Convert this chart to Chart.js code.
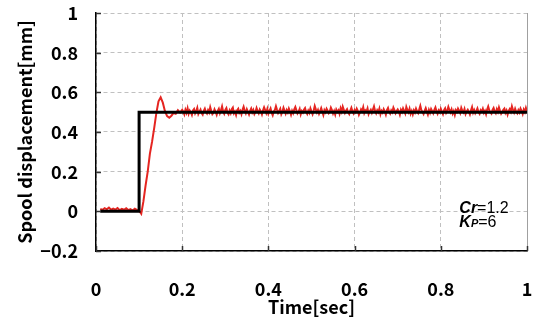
<!DOCTYPE html>
<html>
<head>
<meta charset="utf-8">
<script src="https://cdn.jsdelivr.net/npm/chart.js@4"></script>
<style>
  html, body { margin: 0; padding: 0; background: #fff; }
  #wrap { width: 534px; height: 320px; }
</style>
</head>
<body>
<div id="wrap"><canvas id="canvas"></canvas></div>
<script>
// sample times [sec] of the measured response
var sampleTime = [
  0.010, 0.015, 0.020, 0.025, 0.030, 0.035, 0.040, 0.045, 0.050, 0.055,
  0.060, 0.065, 0.070, 0.075, 0.080, 0.085, 0.090, 0.095, 0.100, 0.105,
  0.110, 0.115, 0.120, 0.125, 0.130, 0.135, 0.140, 0.145, 0.150, 0.155,
  0.160, 0.165, 0.170, 0.175, 0.180, 0.185, 0.190, 0.195, 0.200,
  0.2025, 0.2050, 0.2075, 0.2100, 0.2125, 0.2150, 0.2175, 0.2200,
  0.2225, 0.2250, 0.2275, 0.2300, 0.2325, 0.2350, 0.2375, 0.2400,
  0.2425, 0.2450, 0.2475, 0.2500, 0.2525, 0.2550, 0.2575, 0.2600,
  0.2625, 0.2650, 0.2675, 0.2700, 0.2725, 0.2750, 0.2775, 0.2800,
  0.2825, 0.2850, 0.2875, 0.2900, 0.2925, 0.2950, 0.2975, 0.3000,
  0.3025, 0.3050, 0.3075, 0.3100, 0.3125, 0.3150, 0.3175, 0.3200,
  0.3225, 0.3250, 0.3275, 0.3300, 0.3325, 0.3350, 0.3375, 0.3400,
  0.3425, 0.3450, 0.3475, 0.3500, 0.3525, 0.3550, 0.3575, 0.3600,
  0.3625, 0.3650, 0.3675, 0.3700, 0.3725, 0.3750, 0.3775, 0.3800,
  0.3825, 0.3850, 0.3875, 0.3900, 0.3925, 0.3950, 0.3975, 0.4000,
  0.4025, 0.4050, 0.4075, 0.4100, 0.4125, 0.4150, 0.4175, 0.4200,
  0.4225, 0.4250, 0.4275, 0.4300, 0.4325, 0.4350, 0.4375, 0.4400,
  0.4425, 0.4450, 0.4475, 0.4500, 0.4525, 0.4550, 0.4575, 0.4600,
  0.4625, 0.4650, 0.4675, 0.4700, 0.4725, 0.4750, 0.4775, 0.4800,
  0.4825, 0.4850, 0.4875, 0.4900, 0.4925, 0.4950, 0.4975, 0.5000,
  0.5025, 0.5050, 0.5075, 0.5100, 0.5125, 0.5150, 0.5175, 0.5200,
  0.5225, 0.5250, 0.5275, 0.5300, 0.5325, 0.5350, 0.5375, 0.5400,
  0.5425, 0.5450, 0.5475, 0.5500, 0.5525, 0.5550, 0.5575, 0.5600,
  0.5625, 0.5650, 0.5675, 0.5700, 0.5725, 0.5750, 0.5775, 0.5800,
  0.5825, 0.5850, 0.5875, 0.5900, 0.5925, 0.5950, 0.5975, 0.6000,
  0.6025, 0.6050, 0.6075, 0.6100, 0.6125, 0.6150, 0.6175, 0.6200,
  0.6225, 0.6250, 0.6275, 0.6300, 0.6325, 0.6350, 0.6375, 0.6400,
  0.6425, 0.6450, 0.6475, 0.6500, 0.6525, 0.6550, 0.6575, 0.6600,
  0.6625, 0.6650, 0.6675, 0.6700, 0.6725, 0.6750, 0.6775, 0.6800,
  0.6825, 0.6850, 0.6875, 0.6900, 0.6925, 0.6950, 0.6975, 0.7000,
  0.7025, 0.7050, 0.7075, 0.7100, 0.7125, 0.7150, 0.7175, 0.7200,
  0.7225, 0.7250, 0.7275, 0.7300, 0.7325, 0.7350, 0.7375, 0.7400,
  0.7425, 0.7450, 0.7475, 0.7500, 0.7525, 0.7550, 0.7575, 0.7600,
  0.7625, 0.7650, 0.7675, 0.7700, 0.7725, 0.7750, 0.7775, 0.7800,
  0.7825, 0.7850, 0.7875, 0.7900, 0.7925, 0.7950, 0.7975, 0.8000,
  0.8025, 0.8050, 0.8075, 0.8100, 0.8125, 0.8150, 0.8175, 0.8200,
  0.8225, 0.8250, 0.8275, 0.8300, 0.8325, 0.8350, 0.8375, 0.8400,
  0.8425, 0.8450, 0.8475, 0.8500, 0.8525, 0.8550, 0.8575, 0.8600,
  0.8625, 0.8650, 0.8675, 0.8700, 0.8725, 0.8750, 0.8775, 0.8800,
  0.8825, 0.8850, 0.8875, 0.8900, 0.8925, 0.8950, 0.8975, 0.9000,
  0.9025, 0.9050, 0.9075, 0.9100, 0.9125, 0.9150, 0.9175, 0.9200,
  0.9225, 0.9250, 0.9275, 0.9300, 0.9325, 0.9350, 0.9375, 0.9400,
  0.9425, 0.9450, 0.9475, 0.9500, 0.9525, 0.9550, 0.9575, 0.9600,
  0.9625, 0.9650, 0.9675, 0.9700, 0.9725, 0.9750, 0.9775, 0.9800,
  0.9825, 0.9850, 0.9875, 0.9900, 0.9925, 0.9950, 0.9975, 1.0000
];
// measured spool displacement [mm]
var spoolDisp = [
  0.012, 0.007, 0.016, 0.010, 0.019, 0.008, 0.014, 0.009, 0.017, 0.006,
  0.012, 0.008, 0.015, 0.006, 0.011, 0.004, 0.013, 0.007, 0.003, -0.012,
  0.050, 0.130, 0.200, 0.290, 0.350, 0.420, 0.495, 0.555, 0.575, 0.548,
  0.505, 0.480, 0.472, 0.482, 0.496, 0.492, 0.510, 0.498, 0.512,
  0.503, 0.489, 0.512, 0.497, 0.519, 0.492, 0.508, 0.500,
  0.486, 0.509, 0.516, 0.494, 0.505, 0.522, 0.491, 0.503,
  0.513, 0.496, 0.488, 0.507, 0.518, 0.501, 0.493, 0.510,
  0.499, 0.525, 0.506, 0.490, 0.497, 0.514, 0.502, 0.487,
  0.506, 0.517, 0.495, 0.509, 0.529, 0.503, 0.492, 0.511,
  0.520, 0.498, 0.489, 0.508, 0.495, 0.515, 0.523, 0.494,
  0.503, 0.486, 0.510, 0.517, 0.497, 0.506, 0.490, 0.512,
  0.527, 0.508, 0.495, 0.514, 0.501, 0.488, 0.507, 0.518,
  0.499, 0.511, 0.491, 0.502, 0.521, 0.505, 0.494, 0.513,
  0.504, 0.489, 0.509, 0.524, 0.510, 0.496, 0.516, 0.492,
  0.507, 0.519, 0.498, 0.485, 0.504, 0.511, 0.530, 0.512,
  0.496, 0.506, 0.517, 0.490, 0.502, 0.522, 0.508, 0.493,
  0.511, 0.499, 0.518, 0.504, 0.487, 0.507, 0.495, 0.514,
  0.526, 0.509, 0.494, 0.503, 0.516, 0.489, 0.506, 0.498,
  0.513, 0.521, 0.501, 0.491, 0.508, 0.497, 0.519, 0.504,
  0.490, 0.507, 0.531, 0.514, 0.499, 0.511, 0.492, 0.505,
  0.520, 0.503, 0.486, 0.510, 0.500, 0.517, 0.507, 0.495,
  0.504, 0.523, 0.511, 0.493, 0.506, 0.488, 0.513, 0.501,
  0.509, 0.492, 0.519, 0.503, 0.528, 0.512, 0.496, 0.507,
  0.515, 0.499, 0.490, 0.508, 0.522, 0.504, 0.494, 0.511,
  0.501, 0.518, 0.507, 0.487, 0.499, 0.514, 0.505, 0.525,
  0.496, 0.509, 0.503, 0.519, 0.491, 0.504, 0.512, 0.497,
  0.513, 0.529, 0.506, 0.494, 0.510, 0.500, 0.518, 0.490,
  0.507, 0.498, 0.515, 0.504, 0.488, 0.511, 0.521, 0.502,
  0.493, 0.509, 0.500, 0.523, 0.510, 0.495, 0.506, 0.514,
  0.504, 0.487, 0.512, 0.501, 0.519, 0.507, 0.494, 0.526,
  0.510, 0.499, 0.517, 0.492, 0.506, 0.489, 0.509, 0.498,
  0.518, 0.504, 0.495, 0.513, 0.532, 0.510, 0.501, 0.491,
  0.507, 0.520, 0.503, 0.488, 0.511, 0.497, 0.516, 0.505,
  0.494, 0.512, 0.524, 0.504, 0.492, 0.509, 0.500, 0.517,
  0.503, 0.490, 0.510, 0.519, 0.497, 0.507, 0.527, 0.511,
  0.499, 0.514, 0.493, 0.506, 0.486, 0.510, 0.501, 0.518,
  0.508, 0.496, 0.522, 0.507, 0.499, 0.516, 0.491, 0.504,
  0.512, 0.502, 0.489, 0.509, 0.525, 0.498, 0.511, 0.495,
  0.506, 0.519, 0.501, 0.492, 0.510, 0.503, 0.517, 0.497,
  0.507, 0.490, 0.513, 0.528, 0.509, 0.500, 0.493, 0.511,
  0.521, 0.504, 0.495, 0.515, 0.502, 0.524, 0.507, 0.492,
  0.501, 0.512, 0.518, 0.497, 0.509, 0.488, 0.506, 0.516,
  0.503, 0.529, 0.511, 0.498, 0.517, 0.502, 0.494, 0.510,
  0.499, 0.518, 0.507, 0.491, 0.513, 0.501, 0.522, 0.505
];
// reference (step command)
var refTime = [0.01, 0.1, 0.1, 1.0];
var refDisp = [0, 0, 0.5, 0.5];

var xTicks = [0, 0.2, 0.4, 0.6, 0.8, 1];
var xTickLabels = ['0', '0.2', '0.4', '0.6', '0.8', '1'];
var yTicks = [-0.2, 0, 0.2, 0.4, 0.6, 0.8, 1];
var yTickLabels = ['\u22120.2', '0', '0.2', '0.4', '0.6', '0.8', '1'];

function pairs(xs, ys) {
	return xs.map(function(x, i) { return {x: x, y: ys[i]}; });
}

var FONT = '"Noto Sans CJK JP", "Liberation Sans", sans-serif';

// inner tick marks, solid right frame and the parameter note
var framePlugin = {
	id: 'frame',
	afterDraw: function(chart) {
		var ctx = chart.ctx, a = chart.chartArea;
		var sx = chart.scales.x, sy = chart.scales.y;
		ctx.save();
		ctx.strokeStyle = '#a0a0a0';
		ctx.lineWidth = 1;
		ctx.beginPath();
		ctx.moveTo(a.right + 0.5, a.top);
		ctx.lineTo(a.right + 0.5, a.bottom);
		ctx.stroke();

		ctx.strokeStyle = '#333';
		ctx.lineWidth = 1.5;
		ctx.beginPath();
		yTicks.forEach(function(v) {
			var y = Math.round(sy.getPixelForValue(v)) + 0.5;
			ctx.moveTo(a.left, y);
			ctx.lineTo(a.left + 5, y);
		});
		xTicks.forEach(function(v) {
			var x = Math.round(sx.getPixelForValue(v)) + 0.5;
			ctx.moveTo(x, a.bottom);
			ctx.lineTo(x, a.bottom - 5);
		});
		ctx.stroke();

		// Cr=1.2 / KP=6
		ctx.fillStyle = '#000';
		ctx.textBaseline = 'alphabetic';
		var x0 = sx.getPixelForValue(0.843);
		var y1 = sy.getPixelForValue(-0.008);
		var y2 = sy.getPixelForValue(-0.078);
		ctx.font = 'italic bold 16px "Liberation Sans", Arial, sans-serif';
		ctx.fillText('Cr', x0, y1);
		var w = ctx.measureText('Cr').width;
		ctx.font = '16px "Liberation Sans", Arial, sans-serif';
		ctx.fillText('=1.2', x0 + w, y1);

		ctx.font = 'italic bold 16px "Liberation Sans", Arial, sans-serif';
		ctx.fillText('K', x0, y2);
		w = ctx.measureText('K').width;
		ctx.font = 'italic bold 11px "Liberation Sans", Arial, sans-serif';
		ctx.fillText('P', x0 + w, y2);
		w += ctx.measureText('P').width;
		ctx.font = '16px "Liberation Sans", Arial, sans-serif';
		ctx.fillText('=6', x0 + w, y2);
		ctx.restore();
	}
};

var ctx = document.getElementById('canvas').getContext('2d');
new Chart(ctx, {
	type: 'line',
	data: {
		datasets: [{
			label: 'Reference',
			data: pairs(refTime, refDisp),
			borderColor: '#000',
			borderWidth: 3,
			pointRadius: 0,
			tension: 0
		}, {
			label: 'Spool displacement',
			data: pairs(sampleTime, spoolDisp),
			borderColor: '#e52521',
			borderWidth: 2,
			pointRadius: 0,
			tension: 0
		}]
	},
	options: {
		responsive: true,
		maintainAspectRatio: false,
		animation: false,
		layout: { padding: { left: 0, right: 7, top: 13, bottom: 0 } },
		plugins: {
			legend: { display: false },
			tooltip: { enabled: false }
		},
		scales: {
			x: {
				type: 'linear',
				min: 0,
				max: 1,
				afterBuildTicks: function(s) { s.ticks = xTicks.map(function(v) { return {value: v}; }); },
				afterFit: function(s) { s.height = 69; s.paddingLeft = 0; s.paddingRight = 0; },
				grid: { color: '#c0c0c0', lineWidth: 1, drawTicks: false },
				border: { color: '#000', width: 1.5, dash: [4, 3] },
				ticks: {
					padding: 27,
					color: '#000',
					maxRotation: 0,
					font: { family: FONT, size: 18, weight: 'bold' },
					callback: function(v, i) { return xTickLabels[i]; }
				},
				title: {
					display: true,
					text: 'Time[sec]',
					color: '#000',
					padding: { top: 0, bottom: 2 },
					font: { family: FONT, size: 18, weight: 'bold' }
				}
			},
			y: {
				min: -0.2,
				max: 1,
				afterBuildTicks: function(s) { s.ticks = yTicks.map(function(v) { return {value: v}; }); },
				afterFit: function(s) { s.width = 96; s.paddingTop = 0; s.paddingBottom = 0; },
				grid: { color: '#c0c0c0', lineWidth: 1, drawTicks: false },
				border: { color: '#000', width: 1.5, dash: [4, 3] },
				ticks: {
					padding: 18,
					color: '#000',
					font: { family: FONT, size: 18, weight: 'bold' },
					callback: function(v, i) { return yTickLabels[i]; }
				},
				title: {
					display: true,
					text: 'Spool displacement[mm]',
					color: '#000',
					padding: { top: 14, bottom: 0 },
					font: { family: FONT, size: 18, weight: 'bold' }
				}
			}
		}
	},
	plugins: [framePlugin]
});
</script>
</body>
</html>
